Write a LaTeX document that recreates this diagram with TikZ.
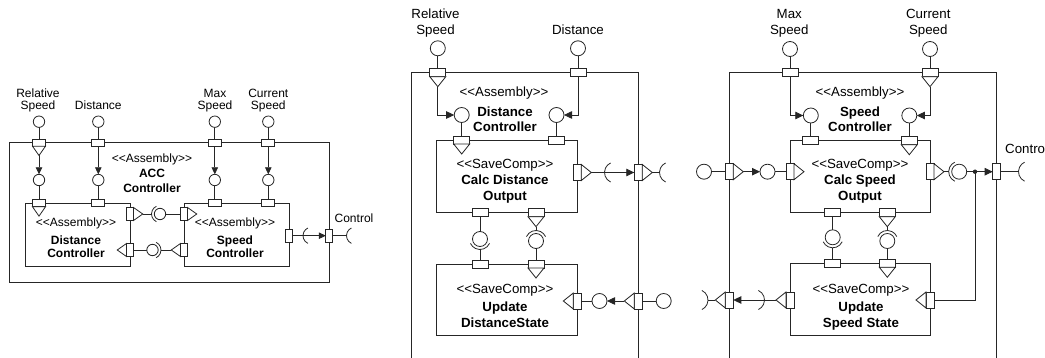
\documentclass[tikz,border=0pt]{standalone}
\usepackage{fontspec}
\setmainfont{Liberation Sans}
\usetikzlibrary{arrows.meta}
\tikzset{
  ln/.style={line width=0.8pt, draw=black!85},
  bar/.style={ln, -{Triangle[length=8pt,width=7.5pt]}},
  sar/.style={ln, -{Triangle[length=7pt,width=6.5pt]}},
  bt/.style={inner sep=0pt, text height=9.5pt, text depth=0pt, font=\fontsize{13.3pt}{15pt}\selectfont},
  bb/.style={bt, font=\fontsize{13.3pt}{15pt}\selectfont\bfseries},
  st/.style={inner sep=0pt, text height=8.6pt, text depth=0pt, font=\fontsize{12pt}{13pt}\selectfont},
  sb/.style={st, font=\fontsize{12pt}{13pt}\selectfont\bfseries}
}
\newcommand\stereo[1]{<{}<#1>{}>}
\newcommand\Hport[2]{\draw[ln,fill=white] ({#1-\PW},{#2-\PH}) rectangle ({#1+\PW},{#2+\PH});}
\newcommand\Vport[2]{\draw[ln,fill=white] ({#1-\PH},{#2-\PW}) rectangle ({#1+\PH},{#2+\PW});}
\newcommand\Tdown[2]{\draw[ln,fill=white] ({#1-\PW},{#2+\PH}) -- ({#1+\PW},{#2+\PH}) -- (#1,{#2+\PH+\TL}) -- cycle;}
\newcommand\Tright[2]{\draw[ln,fill=white] ({#1+\PH},{#2-\PW}) -- ({#1+\PH},{#2+\PW}) -- ({#1+\PH+\TL},#2) -- cycle;}
\newcommand\Tleft[2]{\draw[ln,fill=white] ({#1-\PH},{#2-\PW}) -- ({#1-\PH},{#2+\PW}) -- ({#1-\PH-\TL},#2) -- cycle;}
\newcommand\Ball[2]{\draw[ln,fill=white] (#1,#2) circle[radius=\CR];}
\newcommand\Sock[3]{\draw[ln] ([shift={(#3:\SR)}]#1,#2) arc[start angle=#3,delta angle=130,radius=\SR];}
\begin{document}
\begin{tikzpicture}[x=1pt,y=-1pt]
\useasboundingbox (0,0) rectangle (1045,358);
% ================= LEFT DIAGRAM =================
\def\PW{6.5}\def\PH{3.5}\def\TL{9.3}\def\CR{5.7}\def\SR{8.5}
\draw[ln] (9.3,142.7) rectangle (329.3,282.3);
\draw[ln] (25.7,203.3) rectangle (130,266.7);
\draw[ln] (184,203.3) rectangle (289,266.7);
\node[st] (lrs1) at (38,93) {Relative};
\node[st] (lrs2) at (38,105) {Speed};
\node[st] (ld) at (98.3,105) {Distance};
\node[st] (lms1) at (215,93) {Max};
\node[st] (lms2) at (215,105) {Speed};
\node[st] (lcs1) at (268.3,93) {Current};
\node[st] (lcs2) at (268.3,105) {Speed};
\node[st] (lacc0) at (152,158.3) {\stereo{Assembly}};
\node[sb] (lacc1) at (152,173.3) {ACC};
\node[sb] (lacc2) at (152,188.3) {Controller};
\node[st] (ldc0) at (76,222.3) {\stereo{Assembly}};
\node[sb] (ldc1) at (76,240) {Distance};
\node[sb] (ldc2) at (76,253.3) {Controller};
\node[st] (lsc0) at (235,222.3) {\stereo{Assembly}};
\node[sb] (lsc1) at (235,240) {Speed};
\node[sb] (lsc2) at (235,253.3) {Controller};
\node[st] (lctl) at (354,218.3) {Control};
% columns
\foreach \cx in {39,98.3,214.8,268.3}{
  \draw[ln] (\cx,127.4) -- (\cx,142.7);
  \draw[ln] (\cx,185.7) -- (\cx,203.3);
}
\draw[sar] (39,155.5) -- (39,174.3);
\draw[sar] (98.3,146.2) -- (98.3,174.3);
\draw[sar] (214.8,146.2) -- (214.8,174.3);
\draw[sar] (268.3,146.2) -- (268.3,174.3);
\foreach \cx in {39,98.3,214.8,268.3}{
  \Ball{\cx}{121.7}\Hport{\cx}{142.7}\Ball{\cx}{180}\Hport{\cx}{203.3}
}
\Tdown{39}{142.7}\Tdown{39}{203.3}
% row 1
\draw[ln] (142.8,214) -- (151.5,214);
\draw[ln] (165.7,214) -- (180.5,214);
\Vport{130}{214}\Tright{130}{214}\Ball{160}{214}\Sock{160}{214}{115}
\Vport{184}{214}\Tright{184}{214}
% row 2
\draw[ln] (133.5,250) -- (146.8,250);
\draw[ln] (161,250) -- (171.2,250);
\Vport{130}{250}\Tleft{130}{250}\Ball{152.5}{250}\Sock{152.5}{250}{-65}
\Vport{184}{250}\Tleft{184}{250}
% control
\draw[sar] (292.5,235.7) -- (325.8,235.7);
\Sock{311.5}{235.7}{115}
\Vport{289}{235.7}\Vport{329.3}{235.7}
\draw[ln] (332.8,235.7) -- (346.5,235.7);
\Sock{355}{235.7}{115}
% ================= MIDDLE DIAGRAM =================
\def\PW{8}\def\PH{4}\def\TL{10}\def\CR{7.5}\def\SR{10.5}
\draw[ln] (411,360) -- (411,72.7) -- (638.3,72.7) -- (638.3,360);
\draw[ln] (436.7,140) rectangle (577.3,212.7);
\draw[ln] (436.7,264) rectangle (577.3,335);
\node[bt] (mrs1) at (435.5,13.3) {Relative};
\node[bt] (mrs2) at (435.5,29.3) {Speed};
\node[bt] (md) at (578,29.3) {Distance};
\node[bt] (mdc0) at (504,91.7) {\stereo{Assembly}};
\node[bb] (mdc1) at (505,111.7) {Distance};
\node[bb] (mdc2) at (505,126.7) {Controller};
\node[bt] (mcd0) at (505,163.3) {\stereo{SaveComp}};
\node[bb] (mcd1) at (505,180) {Calc Distance};
\node[bb] (mcd2) at (505,196) {Output};
\node[bt] (mud0) at (505,288.3) {\stereo{SaveComp}};
\node[bb] (mud1) at (505,306.7) {Update};
\node[bb] (mud2) at (505,322.7) {DistanceState};
% columns
\draw[ln] (437.8,55.8) -- (437.8,72.7);
\draw[bar] (437.8,86.7) |- (454.2,115);
\draw[ln] (461.7,122.5) -- (461.7,140);
\draw[ln] (578,55.8) -- (578,72.7);
\draw[bar] (578,76.7) |- (564,115);
\draw[ln] (556.5,122.5) -- (556.5,140);
\Ball{437.8}{48.3}\Hport{437.8}{72.7}\Tdown{437.8}{72.7}\Ball{461.7}{115}\Hport{461.7}{140}\Tdown{461.7}{140}
\Ball{578}{48.3}\Hport{578}{72.7}\Ball{556.5}{115}\Hport{556.5}{140}
% CDO right
\draw[bar] (591.3,172.5) -- (634.3,172.5);
\Sock{615}{172.5}{115}
\Vport{577.3}{172.5}\Tright{577.3}{172.5}\Vport{638.3}{172.5}\Tright{638.3}{172.5}
\draw[ln] (652.3,172.5) -- (659.5,172.5);
\Sock{670}{172.5}{115}
% CDO bottom / UDS top
\draw[ln] (480,216.7) -- (480,231.5);
\draw[ln] (480,249.5) -- (480,260);
\Ball{480}{239}\Sock{480}{239}{25}
\draw[ln] (536,226.7) -- (536,230.5);
\draw[ln] (536,248.5) -- (536,260);
\Sock{536}{241}{205}\Ball{536}{241}
\Hport{480}{212.7}\Hport{536}{212.7}\Tdown{536}{212.7}
\Hport{480}{264}\Hport{536}{264}\Tdown{536}{264}
% UDS right
\draw[ln] (581.3,301) -- (592,301);
\draw[bar] (624.3,301) -- (607,301);
\draw[ln] (642.3,301) -- (656.2,301);
\Vport{577.3}{301}\Tleft{577.3}{301}\Ball{599.5}{301}
\Vport{638.3}{301}\Tleft{638.3}{301}\Ball{663.7}{301}
% ================= RIGHT DIAGRAM =================
\draw[ln] (729.3,360) -- (729.3,72.7) -- (996.7,72.7) -- (996.7,360);
\draw[ln] (790,140.7) rectangle (930,212.7);
\draw[ln] (790,263.3) rectangle (930,335);
\node[bt] (rms1) at (789.3,13.3) {Max};
\node[bt] (rms2) at (789.3,29.3) {Speed};
\node[bt] (rcs1) at (928.3,13.3) {Current};
\node[bt] (rcs2) at (928.3,29.3) {Speed};
\node[bt] (rsc0) at (860,91.7) {\stereo{Assembly}};
\node[bb] (rsc1) at (860,111.7) {Speed};
\node[bb] (rsc2) at (860,126.7) {Controller};
\node[bt] (rcs0) at (860,163.3) {\stereo{SaveComp}};
\node[bb] (rcsa) at (860,180) {Calc Speed};
\node[bb] (rcsb) at (860,196) {Output};
\node[bt] (rus0) at (861,288.3) {\stereo{SaveComp}};
\node[bb] (rus1) at (861,306.7) {Update};
\node[bb] (rus2) at (861,322.7) {Speed State};
\node[bt, anchor=west] (rctl) at (1005,148.3) {Control};
% columns
\draw[ln] (790,56.5) -- (790,72.7);
\draw[bar] (790,76.7) |- (803.3,115.5);
\draw[ln] (810.8,123) -- (810.8,140.7);
\draw[ln] (930,56.5) -- (930,72.7);
\draw[bar] (930,86.7) |- (916.8,115.5);
\draw[ln] (909.3,123) -- (909.3,140.7);
\Ball{790}{49}\Hport{790}{72.7}\Ball{810.8}{115.5}\Hport{810.8}{140.7}
\Ball{930}{49}\Hport{930}{72.7}\Tdown{930}{72.7}\Ball{909.3}{115.5}\Hport{909.3}{140.7}\Tdown{909.3}{140.7}
% left input
\draw[ln] (711.5,171.7) -- (725.3,171.7);
\draw[bar] (743.3,171.7) -- (760,171.7);
\draw[ln] (775,171.7) -- (786,171.7);
\Ball{704}{171.7}\Vport{729.3}{171.7}\Tright{729.3}{171.7}\Ball{767.5}{171.7}\Vport{790}{171.7}\Tright{790}{171.7}
% CSO right / control
\draw[ln] (944,171.7) -- (948.7,171.7);
\draw[bar] (966.7,171.7) -- (992.7,171.7);
\draw[ln] (975,171.7) |- (934,300);
\fill[black!85] (975,171.7) circle[radius=2.2];
\Sock{959.2}{171.7}{115}\Ball{959.2}{171.7}
\Vport{930}{171.7}\Tright{930}{171.7}\Vport{996.7}{171.7}
\draw[ln] (1000.7,171.7) -- (1018.5,171.7);
\Sock{1029}{171.7}{115}
\Vport{930}{300}\Tleft{930}{300}
% CSO bottom / USS top
\draw[ln] (832.7,216.7) -- (832.7,229.8);
\draw[ln] (832.7,247.8) -- (832.7,259.3);
\Ball{832.7}{237.3}\Sock{832.7}{237.3}{25}
\draw[ln] (887.3,226.7) -- (887.3,230.5);
\draw[ln] (887.3,248.5) -- (887.3,259.3);
\Sock{887.3}{241}{205}\Ball{887.3}{241}
\Hport{832.7}{212.7}\Hport{887.3}{212.7}\Tdown{887.3}{212.7}
\Hport{832.7}{263.3}\Hport{887.3}{263.3}\Tdown{887.3}{263.3}
% USS left
\draw[bar] (776,300) -- (733.3,300);
\Sock{754}{300}{-65}
\Vport{790}{300}\Tleft{790}{300}
\Vport{729.3}{300}\Tleft{729.3}{300}
\draw[ln] (715.3,300) -- (708,300);
\Sock{697.5}{300}{-65}
\end{tikzpicture}
\end{document}
